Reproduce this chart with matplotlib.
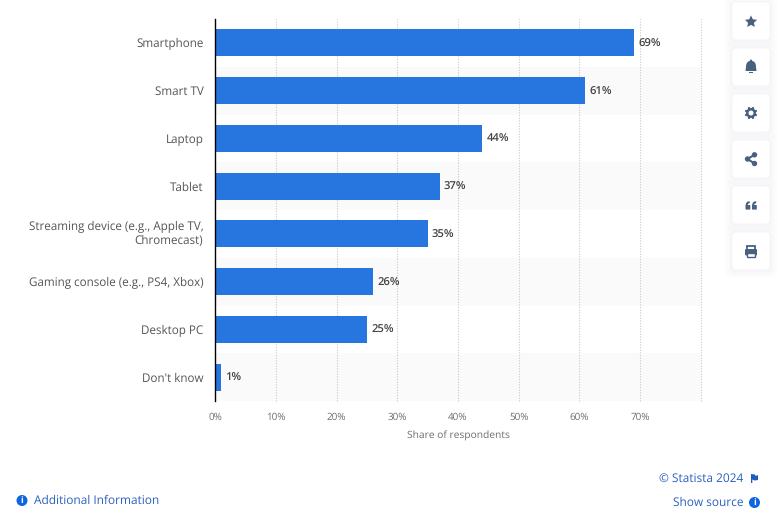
import matplotlib
matplotlib.use("Agg")
import matplotlib.pyplot as plt
from matplotlib.patches import FancyBboxPatch, Circle, Rectangle, Polygon
from matplotlib.transforms import ScaledTranslation
import math

plt.rcParams['font.family'] = ['Open Sans', 'DejaVu Sans']
plt.rcParams['text.hinting'] = 'no_hinting'

categories = ["Smartphone", "Smart TV", "Laptop", "Tablet",
              "Streaming device (e.g., Apple TV,\nChromecast)",
              "Gaming console (e.g., PS4, Xbox)", "Desktop PC", "Don't know"]
values = [69, 61, 44, 37, 35, 26, 25, 1]
xticks = [0, 10, 20, 30, 40, 50, 60, 70]
xlabel = "Share of respondents"

W, H = 780, 525
fig = plt.figure(figsize=(W / 100, H / 100), dpi=100, facecolor="white")
L, R, T, B = 215.2, 700.8, 19, 401
ax = fig.add_axes([L / W, 1 - B / H, (R - L) / W, (B - T) / H])
ax.set_xlim(0, 80)
ax.set_ylim(len(values) - 0.5, -0.5)
ax.set_facecolor("none")

for i in range(len(values)):
    if i % 2 == 1:
        ax.axhspan(i - 0.5, i + 0.5, xmin=0, xmax=1, color="#fafafa", lw=0, zorder=0)
for t in xticks[1:] + [80]:
    ax.axvline(t, color="#c8c8c8", lw=0.8, ls=(0, (1, 1.4)), zorder=1, clip_on=False)

ax.barh(range(len(values)), values, height=0.565, color="#2775de", zorder=2)
for i, v in enumerate(values):
    ax.annotate(f"{v}%", (v, i), xytext=(3.0, -0.8), textcoords="offset points",
                va="center", ha="left", fontsize=8.1, fontweight="semibold",
                color="#444444", zorder=3)

for s in ["top", "right", "bottom"]:
    ax.spines[s].set_visible(False)
ax.spines["left"].set_color("#000000")
ax.spines["left"].set_linewidth(1)
ax.spines["left"].set_zorder(5)

ax.set_yticks(range(len(values)))
ax.set_yticklabels(categories, fontsize=8.35, color="#555555", linespacing=1.22)
ax.tick_params(axis="y", length=0, pad=8.5)
lab = ax.get_yticklabels()[4]
lab.set_transform(lab.get_transform() + ScaledTranslation(0, 2 / 100, fig.dpi_scale_trans))
ax.set_xticks(xticks)
ax.set_xticklabels([f"{t}%" for t in xticks], fontsize=7.1, color="#6e6e6e")
ax.tick_params(axis="x", length=0, pad=8)
ax.set_xlabel(xlabel, fontsize=7.4, color="#6e6e6e", labelpad=6.5)

# Page furniture in pixel coordinates
ov = fig.add_axes([0, 0, 1, 1], zorder=10)
ov.set_xlim(0, W)
ov.set_ylim(H, 0)
ov.axis("off")
ic = "#47617f"
link = "#2b5fc0"
solid = "#0e66de"

tops = [2, 48, 94, 140, 186, 232]
for t in tops:
    for g, a in ((7, .008), (5, .010), (3, .012), (1.5, .014)):
        ov.add_patch(FancyBboxPatch((732 - g, t - g + 1), 38 + 2 * g, 38 + 2 * g,
                     boxstyle="round,pad=0,rounding_size=5", fc="#5a7090", alpha=a, lw=0))
    ov.add_patch(FancyBboxPatch((732, t), 38, 38, boxstyle="round,pad=0,rounding_size=4",
                 fc="white", ec="#f4f5f7", lw=0.6))
cx = 751
# star (fat five-point outline)
star = []
for k in range(10):
    r = 6.4 if k % 2 == 0 else 3.1
    ang = math.radians(-90 + 36 * k)
    star.append((cx + r * math.cos(ang), 21.8 + r * math.sin(ang)))
ov.add_patch(Polygon(star, fc=ic, lw=0))
# bell
ov.add_patch(Circle((cx, 65.5), 4.8, fc=ic, lw=0))
ov.add_patch(Circle((cx, 60.5), 1, fc=ic, lw=0))
ov.add_patch(Polygon([(cx - 4.8, 65.5), (cx + 4.8, 65.5), (cx + 5.5, 71), (cx - 5.5, 71)], fc=ic, lw=0))
ov.add_patch(Rectangle((cx - 2, 72), 4, 1, fc=ic, lw=0))
# gear
ov.add_patch(Circle((cx, 113), 5.0, fc=ic, lw=0))
for k in range(8):
    ang = math.radians(22.5 + 45 * k)
    ov.add_patch(Circle((cx + 5.2 * math.cos(ang), 113 + 5.2 * math.sin(ang)), 1.2, fc=ic, lw=0))
ov.add_patch(Circle((cx, 113), 2.5, fc="white", lw=0, zorder=5))
# share
pts = [(cx + 3.5, 154.8), (cx - 3.5, 159), (cx + 3.5, 163.5)]
ov.plot([p[0] for p in pts], [p[1] for p in pts], color=ic, lw=1.5)
for p in pts:
    ov.add_patch(Circle(p, 2.7, fc=ic, lw=0, zorder=5))
# quote
for dx in (-5.5, 1):
    ov.add_patch(FancyBboxPatch((cx + dx, 205), 4.8, 4.6, boxstyle="round,pad=0,rounding_size=0.6", fc=ic, lw=0))
    ov.add_patch(Polygon([(cx + dx, 205.5), (cx + dx + 0.6, 203), (cx + dx + 2, 201.6), (cx + dx + 4.2, 201.2),
                          (cx + dx + 4.2, 203), (cx + dx + 2.4, 204), (cx + dx + 2.2, 205.5)], fc=ic, lw=0))
# print
ov.add_patch(Rectangle((cx - 4, 245.5), 8, 5, fc="white", ec=ic, lw=1.3))
ov.add_patch(FancyBboxPatch((cx - 6, 249), 12, 6.5, boxstyle="round,pad=0,rounding_size=1.2", fc=ic, lw=0, zorder=4))
ov.add_patch(Rectangle((cx - 3.6, 253), 7.2, 3.6, fc="white", ec=ic, lw=1, zorder=5))


def info(x, y):
    ov.add_patch(Circle((x, y), 5.5, fc=solid, lw=0))
    ov.text(x, y + 0.2, "i", color="white", fontsize=6.5, fontweight="bold", ha="center", va="center")


info(22, 500.5)
ov.text(33.5, 500.5, "Additional Information", color=link, fontsize=8.6, va="center", ha="left")
ov.text(743.5, 478.5, "© Statista 2024", color=link, fontsize=8.6, va="center", ha="right")
ov.add_patch(Polygon([(751, 474), (755, 474.5), (755.5, 476), (758, 475), (758, 480), (754.5, 480.5), (752.3, 479.5), (752.3, 483), (751, 483)], fc="#1e5cc0", lw=0))
ov.text(743.5, 502.5, "Show source", color=link, fontsize=8.6, va="center", ha="right")
info(754.5, 502.5)

fig.savefig("out.png", dpi=100, facecolor="white")
